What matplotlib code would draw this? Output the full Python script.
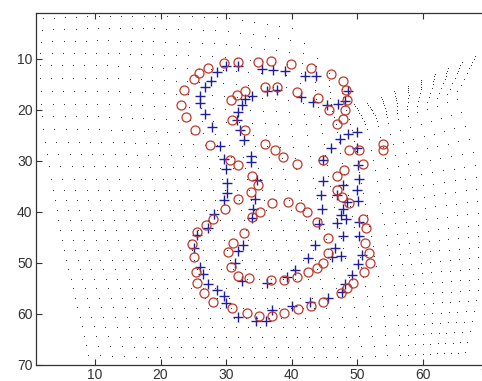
import matplotlib
matplotlib.use("Agg")
import matplotlib.pyplot as plt
import numpy as np

# --- Data (image coordinates, y axis pointing down) -------------------------

# model shape points (blue +)
plus_x = [28.57, 29.99, 31.86, 35.44, 37.21, 38.99, 42.04, 43.72, 27.65, 26.78,
          26.02, 26.02, 26.78, 27.81, 29.07, 34.00, 32.89, 32.38, 31.86, 31.62,
          32.12, 32.73, 36.20, 37.72, 33.80, 33.80, 29.68, 29.94, 30.19, 30.22,
          34.67, 48.65, 48.14, 47.12, 45.35, 43.31, 41.43, 49.93, 48.65, 47.38,
          45.96, 44.74, 49.93, 50.17, 50.33, 49.93, 47.89, 44.74, 44.48, 46.88,
          29.68, 34.41, 34.15, 33.91, 28.20, 27.20, 25.61, 25.15, 26.02, 26.52,
          27.29, 28.57, 29.73, 29.99, 31.77, 34.52, 36.05, 37.05, 32.63, 31.77,
          31.36, 32.47, 36.20, 48.40, 50.17, 47.89, 47.54, 48.25, 44.59, 44.22,
          46.88, 50.28, 47.89, 50.33, 43.57, 46.62, 46.12, 47.54, 42.45, 50.69,
          50.08, 49.17, 48.14, 47.64, 40.52, 39.25, 45.60, 42.80, 40.01]
plus_y = [12.48, 11.31, 11.45, 11.96, 12.09, 12.39, 13.40, 13.40, 14.38, 15.56,
          17.18, 18.69, 20.76, 23.38, 27.10, 17.32, 17.82, 18.94, 20.45, 22.07,
          24.03, 25.98, 16.20, 16.06, 29.11, 30.23, 29.70, 31.66, 34.26, 36.35,
          33.81, 16.34, 18.29, 18.80, 18.94, 18.49, 17.51, 24.36, 24.67, 25.65,
          27.49, 29.76, 27.41, 30.74, 33.47, 35.76, 34.79, 34.00, 36.60, 36.74,
          37.72, 37.39, 39.48, 41.18, 40.32, 43.14, 44.57, 47.05, 50.77, 52.25,
          54.21, 55.32, 56.50, 57.93, 60.55, 61.39, 61.39, 59.24, 46.52, 47.70,
          50.10, 53.56, 54.01, 38.05, 37.91, 39.34, 40.52, 41.30, 39.34, 42.28,
          42.08, 41.96, 44.70, 44.70, 46.39, 46.97, 48.81, 48.67, 48.93, 48.34,
          50.24, 52.39, 54.21, 55.66, 51.41, 52.72, 56.83, 57.73, 58.40]

# target shape points (red o)
circ_x = [29.68, 31.82, 34.87, 36.85, 39.98, 42.96, 46.01, 47.79, 48.30, 48.40,
          48.14, 47.79, 46.88, 45.75, 43.98, 40.87, 37.82, 35.94, 32.89, 31.71,
          30.70, 30.86, 32.89, 35.94, 37.46, 38.76, 40.87, 44.74, 48.04, 46.88,
          46.88, 47.64, 48.80, 50.28, 50.94, 53.90, 53.90, 27.29, 25.91, 25.06,
          23.58, 23.08, 23.88, 25.21, 27.50, 30.60, 31.77, 33.91, 34.82, 33.80,
          31.87, 29.84, 27.96, 26.94, 25.52, 24.75, 25.15, 25.36, 25.61, 26.63,
          27.96, 30.86, 33.15, 35.07, 36.96, 38.84, 41.02, 42.96, 44.83, 47.54,
          48.40, 49.41, 51.09, 51.96, 51.85, 51.20, 51.30, 50.94, 48.80, 32.73,
          31.10, 30.34, 30.70, 31.77, 33.54, 36.85, 38.84, 40.78, 42.55, 43.83,
          44.83, 45.60, 45.60, 43.83, 42.39, 41.28, 39.49, 36.96, 35.18, 34.00]
circ_y = [10.82, 10.53, 10.53, 10.43, 10.92, 11.70, 12.88, 14.34, 16.01, 17.96,
          20.11, 21.74, 22.72, 19.98, 17.71, 16.40, 15.56, 15.42, 16.20, 16.98,
          18.02, 22.07, 24.03, 26.76, 27.80, 29.25, 30.54, 29.76, 31.71, 33.02,
          35.63, 37.07, 27.94, 27.94, 30.54, 26.63, 27.94, 11.84, 12.82, 13.91,
          16.06, 18.94, 21.42, 24.03, 26.96, 29.89, 30.87, 33.02, 34.78, 36.10,
          37.43, 39.48, 41.30, 42.61, 43.92, 46.19, 48.81, 51.86, 54.01, 55.97,
          57.61, 58.90, 59.88, 60.35, 60.35, 59.88, 59.04, 58.40, 57.73, 55.85,
          54.99, 54.01, 51.86, 49.91, 47.95, 45.99, 43.06, 41.30, 38.17, 44.04,
          45.99, 47.83, 50.77, 52.53, 52.92, 53.37, 53.37, 52.72, 51.86, 50.96,
          50.10, 47.95, 45.02, 41.96, 40.00, 39.03, 37.97, 38.17, 40.01, 40.99]

# warped coordinate grid: node positions
grid_u = [0.0, 0.15, 0.30, 0.45, 0.60, 0.75, 1.0]
grid_v = [0.0, 0.14, 0.28, 0.44, 0.62, 0.81, 1.0]
grid_x = [[2.0, 11.0, 20.0, 30.0, 40.0, 50.0, 68.0],
          [1.5, 10.5, 19.5, 29.0, 39.0, 51.0, 67.0],
          [2.0, 11.0, 20.0, 29.5, 40.0, 52.0, 65.0],
          [3.5, 12.5, 21.5, 31.0, 41.0, 53.5, 68.0],
          [5.0, 14.0, 23.5, 33.0, 43.0, 55.0, 68.5],
          [7.0, 16.5, 26.0, 35.5, 45.0, 56.5, 68.5],
          [9.0, 18.5, 28.0, 37.5, 47.0, 57.0, 66.5]]
grid_y = [[2.0, 1.5, 1.5, 1.8, 4.0, 19.5, 9.5],
          [12.0, 12.0, 12.5, 13.0, 14.0, 21.0, 12.0],
          [23.0, 23.0, 23.5, 24.0, 24.5, 23.0, 17.0],
          [35.0, 35.0, 35.0, 35.0, 35.0, 33.0, 30.0],
          [46.0, 46.0, 46.0, 46.0, 46.0, 45.0, 43.0],
          [57.0, 57.0, 57.0, 57.0, 57.0, 56.5, 55.5],
          [68.0, 68.5, 68.5, 68.5, 68.5, 68.0, 67.5]]
N_COLS, N_ROWS = 36, 32


def dense_grid(n_cols, n_rows):
    u = np.asarray(grid_u)
    v = np.asarray(grid_v)
    gx = np.asarray(grid_x)
    gy = np.asarray(grid_y)
    us = np.linspace(0, 1, n_cols)
    vs = np.linspace(0, 1, n_rows)
    ci = np.clip(np.searchsorted(u, us, side="right") - 1, 0, len(u) - 2)
    ri = np.clip(np.searchsorted(v, vs, side="right") - 1, 0, len(v) - 2)
    su = (us - u[ci]) / (u[ci + 1] - u[ci])
    sv = (vs - v[ri]) / (v[ri + 1] - v[ri])
    C, R = np.meshgrid(ci, ri)
    SU, SV = np.meshgrid(su, sv)

    def blend(g):
        return ((1 - SU) * (1 - SV) * g[R, C] + SU * (1 - SV) * g[R, C + 1]
                + (1 - SU) * SV * g[R + 1, C] + SU * SV * g[R + 1, C + 1])

    return blend(gx).ravel(), blend(gy).ravel()


# --- Plot --------------------------------------------------------------------

plt.rcParams["font.family"] = ["Liberation Sans", "DejaVu Sans"]

fig = plt.figure(figsize=(4.82, 3.81), dpi=100)
ax = fig.add_axes([36 / 482, 16 / 381, 452.2 / 482, 352 / 381])

fx, fy = dense_grid(N_COLS, N_ROWS)
ax.plot(fx, fy, ".", color="#222222", markersize=1.6, markeredgewidth=0)
ax.plot(plus_x, plus_y, "+", color="#1f1f9e", markersize=7, markeredgewidth=1.0)
ax.plot(circ_x, circ_y, "o", mfc="none", mec="#c0392b", markersize=6.5,
        markeredgewidth=0.9)

ax.set_xlim(1, 70)
ax.set_ylim(70, 1)
ax.set_xticks([10, 20, 30, 40, 50, 60, 70])
ax.set_yticks([10, 20, 30, 40, 50, 60, 70])
ax.tick_params(direction="in", length=4, width=0.8, top=True, right=True,
               labelsize=10, colors="#333333", pad=2.5)
for s in ax.spines.values():
    s.set_color("#333333")
    s.set_linewidth(0.9)

fig.savefig("out.png", dpi=100)
